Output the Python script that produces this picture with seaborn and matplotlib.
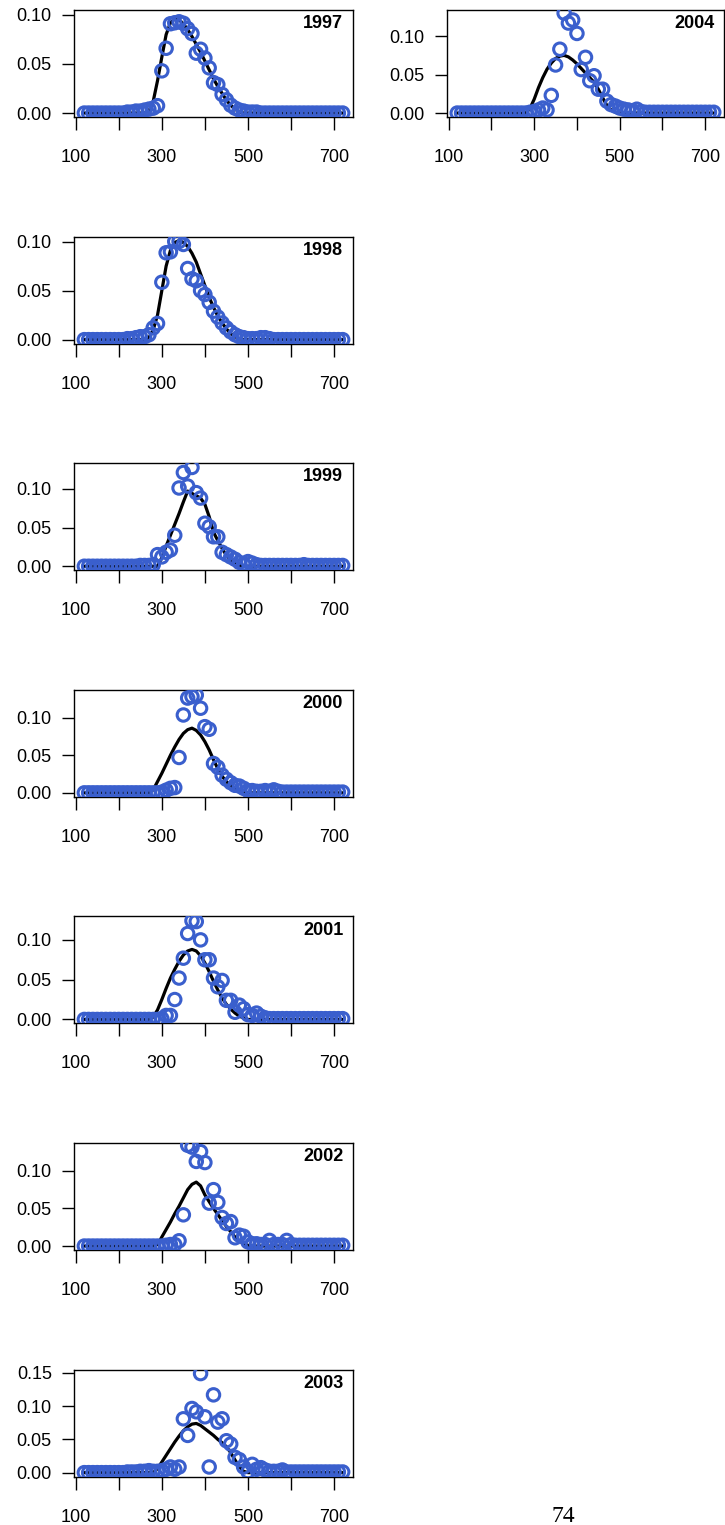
import pandas as pd
import matplotlib
matplotlib.use("Agg")
import matplotlib.pyplot as plt
import seaborn as sns
from matplotlib.ticker import MultipleLocator, FormatStrFormatter

# length classes (mm)
sizes = [120, 130, 140, 150, 160, 170, 180, 190, 200, 210,
         220, 230, 240, 250, 260, 270, 280, 290, 300, 310,
         320, 330, 340, 350, 360, 370, 380, 390, 400, 410,
         420, 430, 440, 450, 460, 470, 480, 490, 500, 510,
         520, 530, 540, 550, 560, 570, 580, 590, 600, 610,
         620, 630, 640, 650, 660, 670, 680, 690, 700, 710,
         720]

years = [1997, 1998, 1999, 2000, 2001, 2002, 2003, 2004]

# observed proportions
obs_1997 = [0, 0, 0, 0, 0, 0, 0, 0, 0, 0,
            0.001, 0.001, 0.002, 0.002, 0.003, 0.004, 0.005, 0.0075, 0.043, 0.066,
            0.091, 0.092, 0.093, 0.0915, 0.086, 0.081, 0.061, 0.065, 0.056, 0.046,
            0.031, 0.029, 0.019, 0.0135, 0.008, 0.005, 0.003, 0.002, 0.001, 0.001,
            0.001, 0, 0, 0, 0, 0, 0, 0, 0, 0,
            0, 0, 0, 0, 0, 0, 0, 0, 0, 0,
            0]
obs_1998 = [0, 0, 0, 0, 0, 0, 0, 0, 0, 0,
            0.001, 0.001, 0.002, 0.003, 0.003, 0.005, 0.012, 0.0165, 0.0585, 0.0885,
            0.0895, 0.100, 0.100, 0.097, 0.0725, 0.062, 0.060, 0.050, 0.046, 0.038,
            0.029, 0.023, 0.017, 0.012, 0.008, 0.005, 0.003, 0.002, 0.001, 0.001,
            0.001, 0.002, 0.002, 0.001, 0, 0, 0, 0, 0, 0,
            0, 0, 0, 0, 0, 0, 0, 0, 0, 0,
            0]
obs_1999 = [0, 0, 0, 0, 0, 0, 0, 0, 0, 0,
            0, 0, 0, 0.001, 0.001, 0.001, 0.002, 0.015, 0.012, 0.018,
            0.021, 0.040, 0.101, 0.121, 0.1035, 0.1275, 0.095, 0.088, 0.0555, 0.051,
            0.038, 0.038, 0.018, 0.015, 0.012, 0.009, 0.005, 0.003, 0.006, 0.004,
            0.002, 0.001, 0.001, 0.001, 0.001, 0.001, 0.001, 0.001, 0.001, 0.001,
            0.001, 0.002, 0.001, 0.001, 0.001, 0.001, 0.001, 0.001, 0.001, 0.001,
            0.001]
obs_2000 = [0, 0, 0, 0, 0, 0, 0, 0, 0, 0,
            0, 0, 0, 0, 0, 0, 0, 0, 0.001, 0.0035,
            0.006, 0.007, 0.047, 0.1035, 0.126, 0.128, 0.130, 0.1125, 0.088, 0.0845,
            0.039, 0.034, 0.0235, 0.018, 0.0135, 0.010, 0.009, 0.006, 0.003, 0.003,
            0.002, 0.002, 0.003, 0.002, 0.004, 0.002, 0.001, 0.001, 0.001, 0.001,
            0.001, 0.001, 0.001, 0.001, 0.001, 0.001, 0.001, 0.001, 0.001, 0.001,
            0.001]
obs_2001 = [0, 0, 0, 0, 0, 0, 0, 0, 0, 0,
            0, 0, 0, 0, 0, 0, 0, 0, 0.001, 0.005,
            0.005, 0.025, 0.052, 0.077, 0.108, 0.124, 0.123, 0.100, 0.075, 0.075,
            0.052, 0.041, 0.049, 0.024, 0.024, 0.009, 0.018, 0.0135, 0.006, 0.005,
            0.008, 0.004, 0.002, 0.001, 0.001, 0.001, 0.001, 0.001, 0.001, 0.001,
            0.001, 0.001, 0.001, 0.001, 0.001, 0.001, 0.001, 0.001, 0.001, 0.001,
            0.001]
obs_2002 = [0, 0, 0, 0, 0, 0, 0, 0, 0, 0,
            0, 0, 0, 0, 0, 0, 0, 0, 0, 0.001,
            0.002, 0.002, 0.007, 0.0415, 0.134, 0.1315, 0.1125, 0.1255, 0.111, 0.057,
            0.075, 0.058, 0.038, 0.030, 0.0325, 0.011, 0.0145, 0.013, 0.0055, 0.003,
            0.003, 0.002, 0.002, 0.0075, 0.002, 0.002, 0.002, 0.0075, 0.002, 0.001,
            0.001, 0.001, 0.001, 0.001, 0.001, 0.001, 0.001, 0.001, 0.001, 0.001,
            0.001]
obs_2003 = [0, 0, 0, 0, 0, 0, 0, 0, 0, 0,
            0.001, 0.001, 0.001, 0.002, 0.002, 0.003, 0.002, 0.002, 0.003, 0.005,
            0.0085, 0.005, 0.0085, 0.081, 0.056, 0.0965, 0.0915, 0.149, 0.084, 0.0085,
            0.117, 0.076, 0.081, 0.048, 0.043, 0.023, 0.0195, 0.0085, 0.0015, 0.0125,
            0.005, 0.0075, 0.004, 0.002, 0.002, 0.002, 0.004, 0.001, 0.001, 0.001,
            0.001, 0.001, 0.001, 0.001, 0.001, 0.001, 0.001, 0.001, 0.001, 0.001,
            0.001]
obs_2004 = [0, 0, 0, 0, 0, 0, 0, 0, 0, 0,
            0, 0, 0, 0, 0, 0, 0, 0.001, 0.002, 0.004,
            0.0065, 0.004, 0.023, 0.0625, 0.083, 0.130, 0.117, 0.121, 0.1035, 0.0565,
            0.0725, 0.042, 0.0485, 0.031, 0.031, 0.0155, 0.011, 0.009, 0.0065, 0.005,
            0.004, 0.003, 0.005, 0.002, 0.001, 0.001, 0.001, 0.001, 0.001, 0.001,
            0.001, 0.001, 0.001, 0.001, 0.001, 0.001, 0.001, 0.001, 0.001, 0.001,
            0.001]

# fitted proportions
fit_1997 = [0, 0, 0, 0, 0, 0, 0, 0, 0, 0,
            0, 0, 0, 0, 0, 0.002, 0.012, 0.033, 0.057, 0.080,
            0.092, 0.096, 0.095, 0.091, 0.085, 0.078, 0.070, 0.062, 0.053, 0.044,
            0.035, 0.027, 0.020, 0.013, 0.008, 0.004, 0.001, 0, 0, 0,
            0, 0, 0, 0, 0, 0, 0, 0, 0, 0,
            0, 0, 0, 0, 0, 0, 0, 0, 0, 0,
            0]
fit_1998 = [0, 0, 0, 0, 0, 0, 0, 0, 0, 0,
            0, 0, 0, 0, 0, 0.002, 0.010, 0.025, 0.050, 0.075,
            0.091, 0.099, 0.101, 0.099, 0.095, 0.088, 0.079, 0.067, 0.055, 0.043,
            0.033, 0.024, 0.017, 0.011, 0.006, 0.003, 0.001, 0, 0, 0,
            0, 0, 0, 0, 0, 0, 0, 0, 0, 0,
            0, 0, 0, 0, 0, 0, 0, 0, 0, 0,
            0]
fit_1999 = [0, 0, 0, 0, 0, 0, 0, 0, 0, 0,
            0, 0, 0, 0, 0, 0, 0, 0, 0.011, 0.026,
            0.040, 0.054, 0.068, 0.083, 0.097, 0.094, 0.091, 0.088, 0.080, 0.064,
            0.044, 0.033, 0.023, 0.014, 0.008, 0.004, 0.001, 0, 0, 0,
            0, 0, 0, 0, 0, 0, 0, 0, 0, 0,
            0, 0, 0, 0, 0, 0, 0, 0, 0, 0,
            0]
fit_2000 = [0, 0, 0, 0, 0, 0, 0, 0, 0, 0,
            0, 0, 0, 0, 0, 0, 0.004, 0.015, 0.026, 0.038,
            0.050, 0.061, 0.071, 0.079, 0.084, 0.086, 0.083, 0.077, 0.068, 0.057,
            0.044, 0.032, 0.022, 0.015, 0.010, 0.006, 0.003, 0.001, 0, 0,
            0, 0, 0, 0, 0, 0, 0, 0, 0, 0,
            0, 0, 0, 0, 0, 0, 0, 0, 0, 0,
            0]
fit_2001 = [0, 0, 0, 0, 0, 0, 0, 0, 0, 0,
            0, 0, 0, 0, 0, 0, 0.003, 0.012, 0.025, 0.039,
            0.052, 0.063, 0.073, 0.081, 0.086, 0.088, 0.086, 0.080, 0.071, 0.060,
            0.048, 0.037, 0.027, 0.019, 0.013, 0.008, 0.004, 0.002, 0, 0,
            0, 0, 0, 0, 0, 0, 0, 0, 0, 0,
            0, 0, 0, 0, 0, 0, 0, 0, 0, 0,
            0]
fit_2002 = [0, 0, 0, 0, 0, 0, 0, 0, 0, 0,
            0, 0, 0, 0, 0, 0, 0, 0.002, 0.012, 0.022,
            0.032, 0.043, 0.053, 0.064, 0.075, 0.082, 0.085, 0.080, 0.068, 0.059,
            0.050, 0.042, 0.034, 0.026, 0.019, 0.012, 0.007, 0.003, 0.001, 0,
            0, 0, 0, 0, 0, 0, 0, 0, 0, 0,
            0, 0, 0, 0, 0, 0, 0, 0, 0, 0,
            0]
fit_2003 = [0, 0, 0, 0, 0, 0, 0, 0, 0, 0,
            0, 0, 0, 0, 0, 0, 0, 0.006, 0.016, 0.026,
            0.036, 0.046, 0.055, 0.063, 0.069, 0.073, 0.074, 0.071, 0.066, 0.061,
            0.056, 0.050, 0.045, 0.039, 0.030, 0.019, 0.009, 0.002, 0, 0,
            0, 0, 0, 0, 0, 0, 0, 0, 0, 0,
            0, 0, 0, 0, 0, 0, 0, 0, 0, 0,
            0]
fit_2004 = [0, 0, 0, 0, 0, 0, 0, 0, 0, 0,
            0, 0, 0, 0, 0, 0, 0, 0.006, 0.018, 0.033,
            0.046, 0.057, 0.065, 0.071, 0.074, 0.075, 0.073, 0.069, 0.064, 0.058,
            0.052, 0.046, 0.040, 0.031, 0.020, 0.010, 0.004, 0.001, 0, 0,
            0, 0, 0, 0, 0, 0, 0, 0, 0, 0,
            0, 0, 0, 0, 0, 0, 0, 0, 0, 0,
            0]

observed = [obs_1997, obs_1998, obs_1999, obs_2000, obs_2001, obs_2002, obs_2003, obs_2004]
fitted = [fit_1997, fit_1998, fit_1999, fit_2000, fit_2001, fit_2002, fit_2003, fit_2004]
y_top = [0.105, 0.105, 0.133, 0.137, 0.1295, 0.137, 0.155, 0.134]

x_ticks = [100, 200, 300, 400, 500, 600, 700]
x_ticklabels = ["100", "", "300", "", "500", "", "700"]

BLUE = "#3A5FCD"

sns.set_style("ticks")
plt.rcParams["font.family"] = ["Liberation Sans", "DejaVu Sans"]
plt.rcParams["axes.edgecolor"] = "black"
plt.rcParams["text.color"] = "black"
plt.rcParams["xtick.color"] = "black"
plt.rcParams["ytick.color"] = "black"
plt.rcParams["xtick.labelcolor"] = "black"
plt.rcParams["ytick.labelcolor"] = "black"

W, H = 725, 1525
fig = plt.figure(figsize=(W / 100, H / 100), dpi=100)


def add_panel(left, top, width, height):
    return fig.add_axes([left / W, 1 - (top + height) / H, width / W, height / H])


for i, year in enumerate(years):
    if year == 2004:
        ax = add_panel(447, 10, 277, 107)
    else:
        ax = add_panel(74, 10 + 226.6 * i, 279, 107)

    df = pd.DataFrame({"size": sizes, "obs": observed[i], "fit": fitted[i]})
    sns.lineplot(data=df, x="size", y="fit", color="black", lw=2.3, ax=ax)
    sns.scatterplot(data=df, x="size", y="obs", marker="o", s=80,
                    facecolor="none", edgecolor=BLUE, linewidth=2.2,
                    zorder=3, ax=ax)

    top = y_top[i]
    ax.set_xlim(96, 744)
    ax.set_ylim(-top * 0.04 / 1.04, top)
    ax.set_xticks(x_ticks)
    ax.set_xticklabels(x_ticklabels)
    ax.yaxis.set_major_locator(MultipleLocator(0.05))
    ax.yaxis.set_major_formatter(FormatStrFormatter("%.2f"))
    ax.set_xlabel("")
    ax.set_ylabel("")
    for sp in ax.spines.values():
        sp.set_linewidth(1.0)
        sp.set_color("black")
    ax.tick_params(axis="x", direction="out", length=9, width=1, pad=14,
                   labelsize=13, colors="black")
    ax.tick_params(axis="y", direction="out", length=9, width=1, pad=7,
                   labelsize=13, colors="black")
    ax.text(0.965, 0.83, str(year), transform=ax.transAxes, ha="right",
            va="baseline", fontsize=13, fontweight="bold", color="black")

fig.text(563 / W, 3 / H, "74", ha="center", va="baseline", fontsize=17,
         color="black", family=["Liberation Serif", "DejaVu Serif"])

fig.savefig("out.png", dpi=100)
